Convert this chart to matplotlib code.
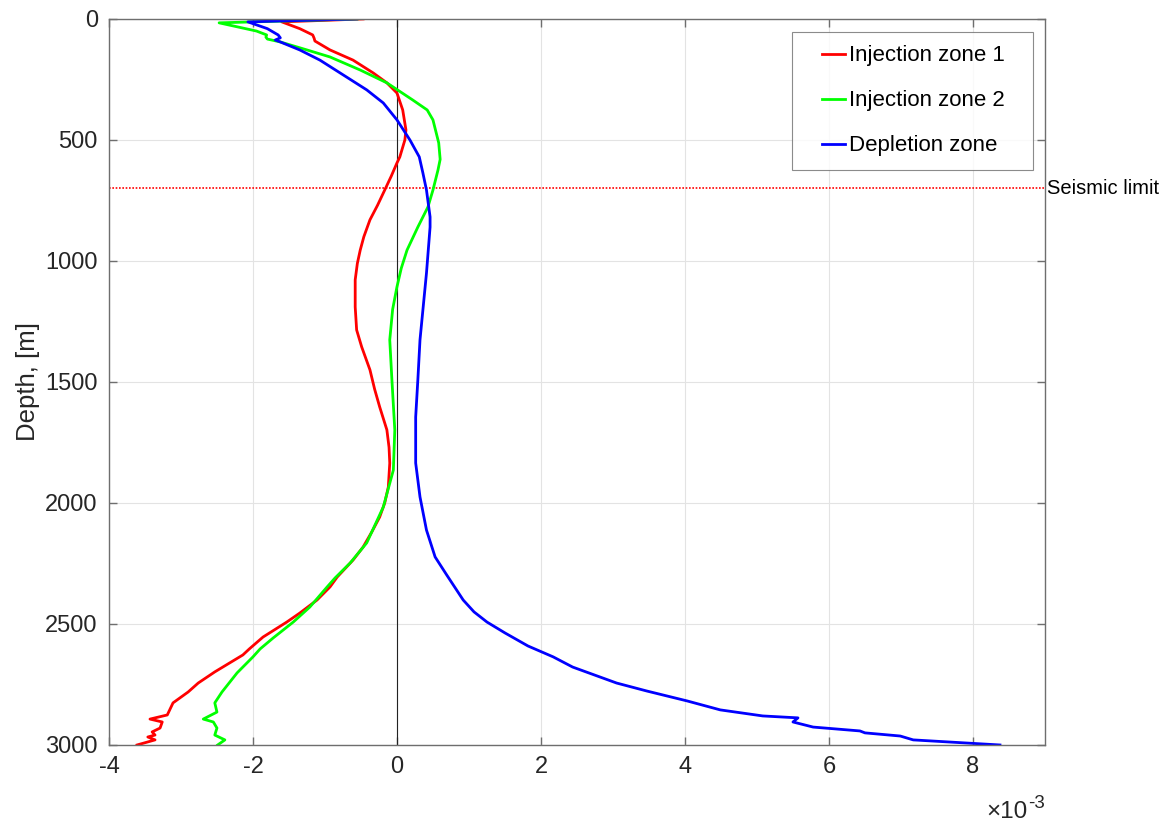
import matplotlib
matplotlib.use("Agg")
import matplotlib.pyplot as plt
import numpy as np
from matplotlib.ticker import FuncFormatter
from matplotlib.legend_handler import HandlerLine2D

plt.rcParams['font.family'] = ['Liberation Sans', 'DejaVu Sans']
plt.rcParams['axes.unicode_minus'] = False

# Strain profiles (values in units of 1e-3) versus depth [m]
inj1_depth = [0, 12, 40, 66, 80, 91, 128, 170, 223, 264, 306, 376, 459, 500, 570, 595,
              650, 707, 770, 830, 900, 955, 1010, 1078, 1190, 1285, 1355, 1450, 1530,
              1603, 1698, 1770, 1835, 1934, 2000, 2058, 2120, 2182, 2236, 2306, 2347,
              2401, 2455, 2492, 2554, 2603, 2628, 2698, 2744, 2781, 2826, 2876, 2893,
              2905, 2930, 2946, 2959, 2967, 2979, 3000]
inj1_strain = [-0.47, -1.6, -1.35, -1.17, -1.15, -1.14, -0.93, -0.61, -0.33, -0.14, 0.0,
               0.08, 0.125, 0.11, 0.04, 0.0, -0.08, -0.17, -0.27, -0.375, -0.46, -0.51,
               -0.55, -0.58, -0.58, -0.56, -0.49, -0.375, -0.31, -0.24, -0.14, -0.11,
               -0.1, -0.12, -0.17, -0.24, -0.35, -0.47, -0.61, -0.83, -0.93, -1.11, -1.35,
               -1.53, -1.86, -2.05, -2.14, -2.53, -2.76, -2.9, -3.11, -3.19, -3.43, -3.26,
               -3.29, -3.4, -3.36, -3.46, -3.36, -3.61]

inj2_depth = [0, 16, 50, 66, 75, 83, 95, 128, 157, 211, 264, 335, 376, 417, 512, 580, 624,
              707, 777, 860, 955, 1030, 1107, 1200, 1326, 1492, 1698, 1864, 2017, 2165,
              2248, 2310, 2347, 2430, 2492, 2558, 2603, 2636, 2702, 2781, 2826, 2864,
              2893, 2905, 2930, 2959, 2979, 3000]
inj2_strain = [-0.55, -2.47, -1.95, -1.81, -1.82, -1.8, -1.62, -1.25, -0.93, -0.51, -0.14,
               0.22, 0.42, 0.5, 0.58, 0.6, 0.57, 0.5, 0.43, 0.29, 0.14, 0.06, 0.0, -0.06,
               -0.1, -0.07, -0.03, -0.05, -0.19, -0.42, -0.65, -0.86, -0.97, -1.21, -1.44,
               -1.72, -1.9, -2.0, -2.22, -2.43, -2.53, -2.5, -2.69, -2.55, -2.5, -2.53,
               -2.39, -2.49]

depl_depth = [0, 12, 40, 66, 78, 87, 95, 128, 170, 240, 293, 347, 417, 500, 570, 636, 707,
              818, 860, 1050, 1326, 1492, 1645, 1835, 1975, 2112, 2223, 2297, 2401, 2450,
              2492, 2537, 2591, 2636, 2678, 2744, 2777, 2818, 2855, 2880, 2888, 2905,
              2926, 2942, 2950, 2963, 2979, 3000]
depl_strain = [-0.56, -2.07, -1.8, -1.65, -1.62, -1.69, -1.62, -1.35, -1.07, -0.7, -0.42,
               -0.19, 0.0, 0.18, 0.31, 0.36, 0.41, 0.46, 0.46, 0.41, 0.32, 0.29, 0.26, 0.26,
               0.32, 0.41, 0.53, 0.69, 0.92, 1.07, 1.25, 1.5, 1.82, 2.17, 2.44, 3.05,
               3.47, 4.03, 4.49, 5.08, 5.57, 5.5, 5.78, 6.43, 6.5, 6.99, 7.17, 8.375]

seismic_limit = 700
x_ticks = [-4, -2, 0, 2, 4, 6, 8]
y_ticks = [0, 500, 1000, 1500, 2000, 2500, 3000]


class RightLineHandler(HandlerLine2D):
    """Legend handle whose line sits in the right part of the handle box."""
    def create_artists(self, legend, orig_handle, xdescent, ydescent, width,
                       height, fontsize, trans):
        artists = super().create_artists(legend, orig_handle, xdescent, ydescent,
                                         width, height, fontsize, trans)
        line = artists[0]
        x = np.asarray(line.get_xdata(), dtype=float)
        y = np.asarray(line.get_ydata(), dtype=float)
        x0 = x.min() + (x.max() - x.min()) * 0.42
        line.set_data(np.linspace(x0, x.max(), len(y)), y)
        return artists


fig = plt.figure(figsize=(11.69, 8.21), dpi=100)
ax = fig.add_axes([0.0932, 0.0926, 0.8007, 0.8843])

scale = 1e-3
ax.plot(np.array(inj1_strain) * scale, inj1_depth, color='#ff0000', lw=2, label='Injection zone 1')
ax.plot(np.array(inj2_strain) * scale, inj2_depth, color='#00ff00', lw=2, label='Injection zone 2')
ax.plot(np.array(depl_strain) * scale, depl_depth, color='#0000ff', lw=2, label='Depletion zone')

ax.axvline(0, color='#222222', lw=0.8, zorder=1.5)
ax.axhline(seismic_limit, color='#ff0000', lw=1.2, ls=(0, (1, 1)), zorder=1.5)
ax.text(1.002, seismic_limit, 'Seismic limit', transform=ax.get_yaxis_transform(),
        ha='left', va='center', fontsize=14.5, color='black', clip_on=False)

ax.set_xlim(-4e-3, 9e-3)
ax.set_ylim(3000, 0)
ax.set_xticks(np.array(x_ticks) * scale)
ax.set_yticks(y_ticks)
ax.xaxis.set_major_formatter(FuncFormatter(lambda v, p: f'{v / scale:g}'))

# exponent label for the x axis
ax.text(0.981, -0.1006, '\u00d710', transform=ax.transAxes, ha='right', va='baseline',
        fontsize=17.5, color='#262626')
ax.text(0.9815, -0.0868, '-3', transform=ax.transAxes, ha='left', va='baseline',
        fontsize=13.5, color='#262626')

ax.grid(True, color='#e3e3e3', lw=0.8)
ax.set_axisbelow(True)
for s in ax.spines.values():
    s.set_color('#6e6e6e')
    s.set_linewidth(1.0)
ax.tick_params(direction='in', top=True, right=True, length=6, width=1.0,
               color='#6e6e6e', labelsize=17, labelcolor='#262626', pad=8)

ax.set_ylabel('Depth, [m]', fontsize=18.5, color='#262626', labelpad=3.5)

leg = ax.legend(loc='upper left', mode='expand', fontsize=16, frameon=True,
                fancybox=False, edgecolor='#6e6e6e', handlelength=1.8,
                handletextpad=0.15, labelspacing=1.08, borderpad=0.6,
                borderaxespad=0, bbox_to_anchor=(0.7297, 0.5, 0.2575, 0.4821),
                handler_map={matplotlib.lines.Line2D: RightLineHandler()})
leg.get_frame().set_linewidth(0.8)

fig.savefig('out.png', dpi=100)
